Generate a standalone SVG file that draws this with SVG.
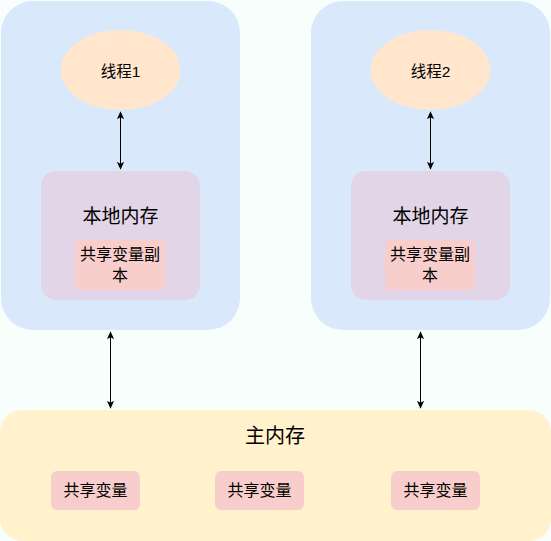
<svg xmlns="http://www.w3.org/2000/svg" width="551" height="541" viewBox="0 0 551 541">
<defs>
<marker id="ah" viewBox="0 0 10 10" refX="9" refY="5" markerWidth="8" markerHeight="8" markerUnits="userSpaceOnUse" orient="auto-start-reverse">
<path d="M0,0.5 L10,5 L0,9.5 L2.5,5 Z" fill="#000"/>
</marker>
</defs>
<style>
text{font-family:"Liberation Sans","Noto Sans CJK SC",sans-serif;fill:#000;text-anchor:middle;dominant-baseline:central}
.panel{fill:#dae8fc}
.thread{fill:#ffe6cc}
.local{fill:#e1d5e7}
.copy{fill:#f8cecc}
.main{fill:#fff2cc}
.conn{stroke:#000;stroke-width:1;fill:none;marker-start:url(#ah);marker-end:url(#ah)}
.t15{font-size:15.5px}
.t16{font-size:16px}
.t17{font-size:19px}
.t18{font-size:20px}
</style>
<rect width="551" height="541" fill="#f8fefb"/>
<g id="panel1">
<rect class="panel" x="1" y="1" width="239" height="329" rx="32"/>
</g>
<g id="panel2">
<rect class="panel" x="311" y="1" width="239" height="329" rx="32"/>
</g>
<g id="thread1">
<ellipse class="thread" cx="120.5" cy="70" rx="60" ry="40"/>
<text class="t15" x="120.5" y="71">线程1</text>
</g>
<g id="thread2">
<ellipse class="thread" cx="430.5" cy="70" rx="60" ry="40"/>
<text class="t15" x="430.5" y="71">线程2</text>
</g>
<g id="local1">
<rect class="local" x="41" y="171" width="159" height="129" rx="15"/>
<text class="t17" x="120.5" y="216">本地内存</text>
</g>
<g id="copy1">
<rect class="copy" x="75" y="240" width="90" height="50" rx="5"/>
<text class="t16" x="120" y="254.5">共享变量副</text>
<text class="t16" x="120" y="275">本</text>
</g>
<g id="local2">
<rect class="local" x="351" y="171" width="159" height="129" rx="15"/>
<text class="t17" x="430.5" y="216">本地内存</text>
</g>
<g id="copy2">
<rect class="copy" x="385" y="240" width="90" height="50" rx="5"/>
<text class="t16" x="430" y="254.5">共享变量副</text>
<text class="t16" x="430" y="275">本</text>
</g>
<g id="mainmem">
<rect class="main" x="0" y="410" width="551" height="131" rx="22"/>
<text class="t18" x="275" y="436">主内存</text>
</g>
<g id="shared1">
<rect class="copy" x="51" y="471" width="89" height="39" rx="6"/>
<text class="t16" x="95.5" y="490">共享变量</text>
</g>
<g id="shared2">
<rect class="copy" x="215" y="471" width="89" height="39" rx="6"/>
<text class="t16" x="259.5" y="490">共享变量</text>
</g>
<g id="shared3">
<rect class="copy" x="391" y="471" width="89" height="39" rx="6"/>
<text class="t16" x="435.5" y="490">共享变量</text>
</g>
<g id="connectors">
<line class="conn" x1="120.5" y1="112" x2="120.5" y2="169"/>
<line class="conn" x1="430.5" y1="112" x2="430.5" y2="169"/>
<line class="conn" x1="110.5" y1="332" x2="110.5" y2="408"/>
<line class="conn" x1="420.5" y1="332" x2="420.5" y2="408"/>
</g>
</svg>
